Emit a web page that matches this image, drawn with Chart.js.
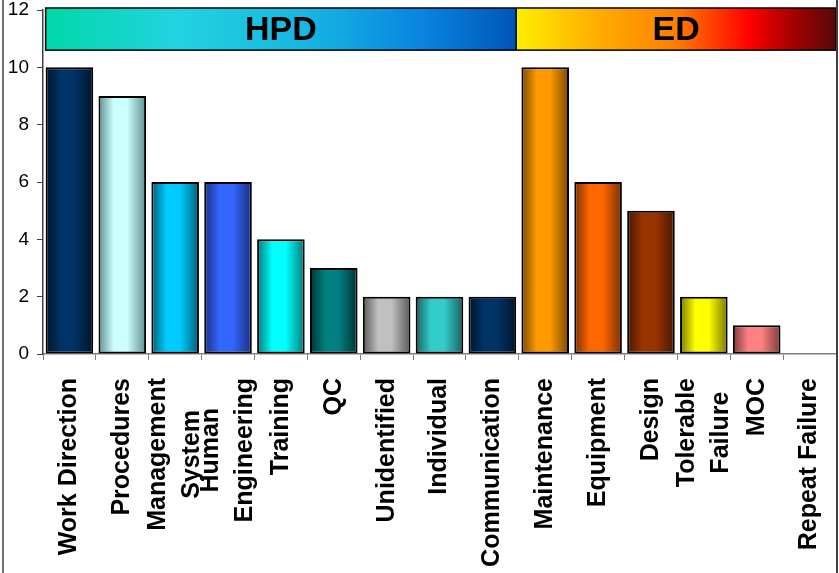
<!DOCTYPE html>
<html>
<head>
<meta charset="utf-8">
<script src="https://cdn.jsdelivr.net/npm/chart.js@4.4.1/dist/chart.umd.min.js"></script>
<style>
  html, body { margin: 0; padding: 0; background: #fff; }
  #wrap { width: 839px; height: 573px; }
</style>
</head>
<body>
<div id="wrap"><canvas id="cause-chart"></canvas></div>
<script>
// categories and counts
var categories = ['Work Direction', 'Procedures', ['Management', 'System'], ['Human', 'Engineering'],
    'Training', 'QC', 'Unidentified', 'Individual', 'Communication',
    'Maintenance', 'Equipment', 'Design', ['Tolerable', 'Failure'], 'MOC', 'Repeat Failure'];
var counts = [10, 9, 6, 6, 4, 3, 2, 2, 2, 10, 6, 5, 2, 1, 0];
var yTicks = [0, 2, 4, 6, 8, 10, 12];

// group banner over the bars
var groupNames = ['HPD', 'ED'];
var groupSizes = [9, 6];

// bar shading: middle colour and edge colour
var midColors = ['#003366', '#ccffff', '#00ccff', '#3366ff', '#00ffff', '#008080', '#c0c0c0', '#33cccc', '#003366',
    '#ff9900', '#ff6600', '#993300', '#ffff00', '#ff8080', '#cccccc'];
var edgeColors = ['#00152b', '#5f8f8f', '#005f78', '#1a3080', '#007878', '#003333', '#5a5a5a', '#186060', '#00152b',
    '#7a4800', '#7a3000', '#481800', '#787800', '#7a3c3c', '#666666'];

var FONT = '"Liberation Sans", Arial, sans-serif';
Chart.defaults.font.family = FONT;
Chart.defaults.color = '#000';

function barGradient(context) {
    var chart = context.chart;
    var i = context.dataIndex;
    if (!chart.chartArea || !chart.scales.x) return midColors[i];
    var xs = chart.scales.x;
    var half = xs.width / categories.length * 0.9 / 2;
    var cx = xs.getPixelForValue(i);
    var g = chart.ctx.createLinearGradient(cx - half, 0, cx + half, 0);
    g.addColorStop(0, edgeColors[i]);
    g.addColorStop(0.32, midColors[i]);
    g.addColorStop(0.6, midColors[i]);
    g.addColorStop(1, edgeColors[i]);
    return g;
}

var bannerPlugin = {
    id: 'banner',
    beforeDraw: function(chart) {
        var ctx = chart.ctx;
        ctx.save();
        ctx.fillStyle = '#fff';
        ctx.fillRect(0, 0, chart.width, chart.height);
        ctx.restore();
    },
    afterDraw: function(chart) {
        var ctx = chart.ctx;
        var xs = chart.scales.x, ys = chart.scales.y, area = chart.chartArea;
        var step = xs.width / categories.length;
        var top = ys.getPixelForValue(12) - 2;
        var bottom = ys.getPixelForValue(10.6);

        var hpdLeft = xs.getPixelForValue(0) - step * 0.45;
        var split = xs.getPixelForValue(groupSizes[0] - 1) + step * 0.45;
        var edRight = area.right;

        ctx.save();
        var g1 = ctx.createLinearGradient(hpdLeft, 0, split, 0);
        g1.addColorStop(0, '#00d8a8');
        g1.addColorStop(0.28, '#22d3e0');
        g1.addColorStop(0.55, '#18b6e2');
        g1.addColorStop(0.8, '#0984e0');
        g1.addColorStop(1, '#0056b6');
        ctx.fillStyle = g1;
        ctx.fillRect(hpdLeft, top, split - hpdLeft, bottom - top);

        var g2 = ctx.createLinearGradient(split, 0, edRight, 0);
        g2.addColorStop(0, '#ffee00');
        g2.addColorStop(0.25, '#ffae00');
        g2.addColorStop(0.5, '#ff7e00');
        g2.addColorStop(0.73, '#ff0000');
        g2.addColorStop(0.86, '#a80000');
        g2.addColorStop(1, '#580808');
        ctx.fillStyle = g2;
        ctx.fillRect(split, top, edRight - split, bottom - top);

        ctx.strokeStyle = '#000';
        ctx.lineWidth = 1.5;
        ctx.strokeRect(hpdLeft, top, edRight - hpdLeft, bottom - top);
        ctx.beginPath();
        ctx.moveTo(split, top);
        ctx.lineTo(split, bottom);
        ctx.stroke();

        ctx.fillStyle = '#000';
        ctx.font = 'bold 34px ' + FONT;
        ctx.textAlign = 'center';
        ctx.textBaseline = 'middle';
        var mid = (top + bottom) / 2 + 2;
        ctx.fillText(groupNames[0], (hpdLeft + split) / 2, mid);
        ctx.fillText(groupNames[1], (split + edRight) / 2, mid);

        // category labels, rotated, lines centred on the tick
        ctx.font = 'bold 25px ' + FONT;
        categories.forEach(function(label, i) {
            var lines = [].concat(label);
            var widths = lines.map(function(l) { return ctx.measureText(l).width; });
            var maxW = Math.max.apply(null, widths);
            ctx.save();
            ctx.translate(xs.getPixelForValue(i), xs.top + 24);
            ctx.rotate(-Math.PI / 2);
            lines.forEach(function(line, j) {
                ctx.fillText(line, -maxW / 2, (j - (lines.length - 1) / 2) * 34);
            });
            ctx.restore();
        });

        // outer frame lines
        ctx.strokeStyle = '#404040';
        ctx.lineWidth = 1.5;
        ctx.beginPath();
        ctx.moveTo(3, 0);
        ctx.lineTo(3, chart.height);
        ctx.stroke();
        ctx.lineWidth = 2;
        ctx.beginPath();
        ctx.moveTo(area.right + 1, 0);
        ctx.lineTo(area.right + 1, chart.height);
        ctx.stroke();
        ctx.restore();
    }
};

var ctx = document.getElementById('cause-chart').getContext('2d');
var causeChart = new Chart(ctx, {
    type: 'bar',
    data: {
        labels: categories,
        datasets: [{
            data: counts,
            backgroundColor: barGradient,
            borderColor: '#000',
            borderWidth: 2,
            borderSkipped: false,
            barPercentage: 0.9,
            categoryPercentage: 1
        }]
    },
    options: {
        responsive: true,
        maintainAspectRatio: false,
        animation: false,
        layout: { padding: { top: 10, right: 3, left: 0, bottom: 0 } },
        plugins: {
            legend: { display: false },
            tooltip: { enabled: false }
        },
        scales: {
            x: {
                grid: { drawOnChartArea: false, drawTicks: true, tickLength: 6, color: '#808080', offset: true },
                border: { display: true, color: '#808080', width: 1.5 },
                ticks: { display: false },
                afterFit: function(scale) {
                    scale.height = 219;
                    scale.paddingLeft = 0;
                    scale.paddingRight = 0;
                }
            },
            y: {
                min: 0,
                max: 12,
                afterBuildTicks: function(scale) {
                    scale.ticks = yTicks.map(function(v) { return { value: v }; });
                },
                grid: { drawOnChartArea: false, drawTicks: true, tickLength: 6, color: '#404040' },
                border: { display: true, color: '#404040', width: 1.5 },
                ticks: { padding: 8, font: { size: 19 }, color: '#000' },
                afterFit: function(scale) {
                    scale.width = 43;
                    scale.paddingTop = 0;
                    scale.paddingBottom = 0;
                }
            }
        }
    },
    plugins: [bannerPlugin]
});
</script>
</body>
</html>
